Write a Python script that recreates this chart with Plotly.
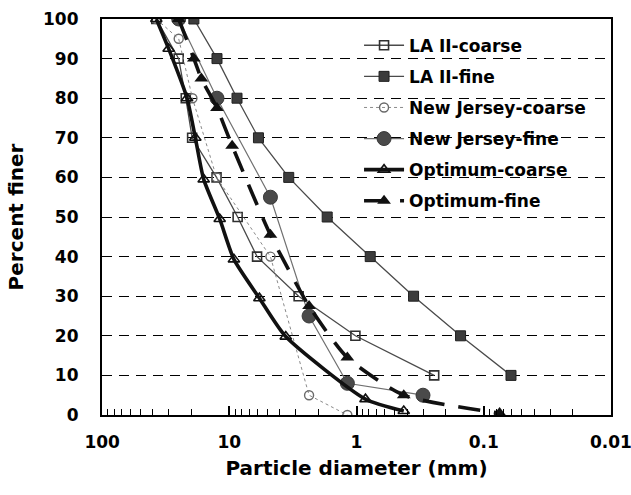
import plotly.graph_objects as go

# Gradation data: particle diameter (mm) vs percent finer
la_coarse_d = [37.5, 25, 22, 19.6, 12.6, 8.6, 6.05, 2.85, 1.02, 0.245]
la_coarse_p = [100, 90, 80, 70, 60, 50, 40, 30, 20, 10]

la_fine_d = [19, 12.5, 8.7, 5.9, 3.41, 1.7, 0.78, 0.356, 0.152, 0.061]
la_fine_p = [100, 90, 80, 70, 60, 50, 40, 30, 20, 10]

nj_coarse_d = [37.5, 25, 19.5, 12.6, 4.75, 2.36, 1.18]
nj_coarse_p = [100, 95, 80, 60, 40, 5, 0]

nj_fine_d = [25, 12.5, 4.75, 2.36, 1.18, 0.3]
nj_fine_p = [100, 80, 55, 25, 8, 5]

opt_coarse_d = [37.5, 30, 21.5, 18.5, 15.9, 11.9, 9.2, 5.8, 3.6, 0.85, 0.425]
opt_coarse_p = [100, 92.5, 80, 70, 59.5, 49.5, 39.3, 29.5, 19.8, 4, 1]

opt_fine_d = [25, 19, 16.6, 12.5, 9.5, 4.75, 2.36, 1.18, 0.425, 0.075]
opt_fine_p = [100, 90, 85, 77.5, 68, 45.5, 27.5, 14.5, 5, 0.5]

x_ticks = [100, 10, 1, 0.1, 0.01]
x_tick_text = ["100", "10", "1", "0.1", "0.01"]
y_ticks = list(range(0, 101, 10))

FONT = "DejaVu Sans"

fig = go.Figure()

fig.add_trace(go.Scatter(
    x=la_coarse_d, y=la_coarse_p, name="LA II-coarse", mode="lines+markers",
    line=dict(color="#4a4a4a", width=1.3),
    marker=dict(symbol="square-open", size=9, color="#303030", line=dict(width=1.6)),
    legendgroup="a"))
fig.add_trace(go.Scatter(
    x=la_fine_d, y=la_fine_p, name="LA II-fine", mode="lines+markers",
    line=dict(color="#4a4a4a", width=1.3),
    marker=dict(symbol="square", size=10, color="#3c3c3c", line=dict(width=1, color="#202020")),
    legendgroup="b"))
fig.add_trace(go.Scatter(
    x=nj_coarse_d, y=nj_coarse_p, name="New Jersey-coarse", mode="lines+markers",
    line=dict(color="#8a8a8a", width=1, dash="dot"),
    marker=dict(symbol="circle-open", size=9, color="#6a6a6a", line=dict(width=1.4)),
    legendgroup="c"))
fig.add_trace(go.Scatter(
    x=nj_fine_d, y=nj_fine_p, name="New Jersey-fine", mode="lines+markers",
    line=dict(color="#707070", width=1.2),
    marker=dict(symbol="circle", size=14, color="#4a4a4a", line=dict(width=1, color="#3a3a3a")),
    legendgroup="d"))
fig.add_trace(go.Scatter(
    x=opt_coarse_d, y=opt_coarse_p, name="Optimum-coarse", mode="lines+markers",
    line=dict(color="#111111", width=3.6, shape="spline", smoothing=0.6),
    marker=dict(symbol="triangle-up-open", size=10, color="#111111", line=dict(width=1.6)),
    legendgroup="e"))
fig.add_trace(go.Scatter(
    x=opt_fine_d, y=opt_fine_p, name="Optimum-fine", mode="lines+markers",
    line=dict(color="#111111", width=3.6, dash="22px,14px", shape="spline", smoothing=0.6),
    marker=dict(symbol="triangle-up", size=12, color="#111111"),
    legendgroup="f"))

fig.update_layout(
    width=631, height=495,
    margin=dict(l=102, r=20, t=19, b=80),
    paper_bgcolor="white", plot_bgcolor="white",
    font=dict(family=FONT, color="black"),
    showlegend=True,
    legend=dict(
        x=0.505, y=0.978, xanchor="left", yanchor="top",
        bgcolor="rgba(0,0,0,0)", borderwidth=0,
        font=dict(family=FONT, size=17, color="black", weight="bold"),
        tracegroupgap=6, traceorder="grouped", itemwidth=40,
    ),
    xaxis=dict(
        type="log", range=[2.001, -2.001], autorange=False, automargin=False,
        tickvals=x_ticks, ticktext=x_tick_text,
        ticks="inside", ticklen=9, tickwidth=1.5, tickcolor="black",
        minor=dict(ticks="inside", ticklen=6, tickwidth=1.2, tickcolor="black", dtick="D1"),
        showgrid=False, zeroline=False,
        showline=True, linewidth=2.2, linecolor="black", mirror=True,
        tickfont=dict(family=FONT, size=17, weight="bold"),
        ticklabelstandoff=10, ticklabeloverflow="allow",
        title=dict(text="Particle diameter (mm)", standoff=10,
                   font=dict(family=FONT, size=20, weight="bold")),
    ),
    yaxis=dict(
        range=[0, 100], autorange=False, automargin=False,
        tickvals=y_ticks, ticks="",
        showgrid=True, gridcolor="black", gridwidth=1, griddash="10px,7px",
        zeroline=False,
        showline=True, linewidth=2.2, linecolor="black", mirror=True,
        tickfont=dict(family=FONT, size=17, weight="bold"),
        ticklabelstandoff=18,
        title=dict(text="Percent finer", standoff=14,
                   font=dict(family=FONT, size=20, weight="bold")),
    ),
)

fig.write_html("out.html")
